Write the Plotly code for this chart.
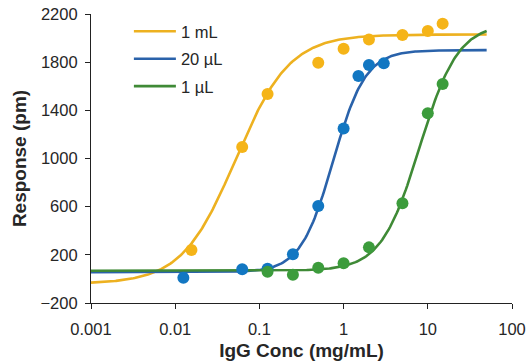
import numpy as np
import plotly.graph_objects as go

# Measured responses (pm) versus IgG concentration (mg/mL)
conc_1mL = [0.0156, 0.0625, 0.125, 0.5, 1, 2, 5, 10, 15]
resp_1mL = [240, 1095, 1535, 1795, 1912, 1988, 2025, 2058, 2120]

conc_20uL = [0.0125, 0.0625, 0.125, 0.25, 0.5, 1, 1.5, 2, 3]
resp_20uL = [10, 80, 85, 205, 605, 1250, 1685, 1776, 1790]

conc_1uL = [0.125, 0.25, 0.5, 1, 2, 5, 10, 15]
resp_1uL = [60, 35, 93, 130, 262, 628, 1375, 1618]

# Four-parameter logistic fit parameters: bottom, top, EC50, Hill slope
fit_1mL = [-40, 2030, 0.0524, 1.36]
fit_20uL = [55, 1900, 0.75, 2.25]
fit_1uL = [68, 2120, 8.0, 1.9]

names = ["1 mL", "20 µL", "1 µL"]
line_colors = ["#EDB120", "#2A62AA", "#3F8A36"]
marker_colors = ["#F5B418", "#1277C2", "#3C9C3C"]

x_tick_vals = [0.001, 0.01, 0.1, 1, 10, 100]
x_tick_text = ["0.001", "0.01", "0.1", "1", "10", "100"]
y_tick_vals = [-200, 200, 600, 1000, 1400, 1800, 2200]


def logistic(x, p):
    bottom, top, ec50, hill = p
    return bottom + (top - bottom) / (1 + (ec50 / x) ** hill)


x_fit = np.logspace(-3, np.log10(50), 300)

fig = go.Figure()
series = [
    (conc_1mL, resp_1mL, fit_1mL),
    (conc_20uL, resp_20uL, fit_20uL),
    (conc_1uL, resp_1uL, fit_1uL),
]
for i, ((xs, ys, p), name, lc) in enumerate(zip(series, names, line_colors)):
    fig.add_trace(go.Scatter(
        x=x_fit, y=logistic(x_fit, p), mode="lines", name=name,
        legendgroup="g%d" % i,
        line=dict(color=lc, width=2.6), hoverinfo="skip",
    ))
for (xs, ys, p), name, mc in zip(series, names, marker_colors):
    fig.add_trace(go.Scatter(
        x=xs, y=ys, mode="markers", name=name, showlegend=False,
        marker=dict(color=mc, size=12, line=dict(width=0)),
    ))

font_family = "Liberation Sans, Arial, sans-serif"
text_color = "#262626"
fig.update_layout(
    width=528, height=364,
    margin=dict(l=91, r=16, t=14, b=61),
    paper_bgcolor="white", plot_bgcolor="white",
    font=dict(family=font_family, size=16.5, color=text_color),
    showlegend=True,
    legend=dict(
        x=0.09, y=1.0, xanchor="left", yanchor="top",
        bgcolor="rgba(0,0,0,0)", font=dict(size=16.5, color=text_color),
        itemwidth=42, traceorder="grouped", tracegroupgap=3,
    ),
    xaxis=dict(
        type="log", range=[-3, 2], automargin=False,
        tickvals=x_tick_vals, ticktext=x_tick_text,
        ticks="outside", ticklen=5, tickcolor="#222222",
        ticklabelstandoff=6,
        showline=True, linecolor="#222222", linewidth=1.2,
        showgrid=False, zeroline=False,
        title=dict(text="<b>IgG Conc (mg/mL)</b>", font=dict(size=19), standoff=6),
    ),
    yaxis=dict(
        range=[-200, 2200], tickvals=y_tick_vals, automargin=False,
        ticks="outside", ticklen=5, tickcolor="#222222",
        ticklabelstandoff=4,
        showline=True, linecolor="#222222", linewidth=1.2,
        showgrid=False, zeroline=False,
        title=dict(text="<b>Response (pm)</b>", font=dict(size=19), standoff=8),
    ),
)

fig.write_html("out.html")
